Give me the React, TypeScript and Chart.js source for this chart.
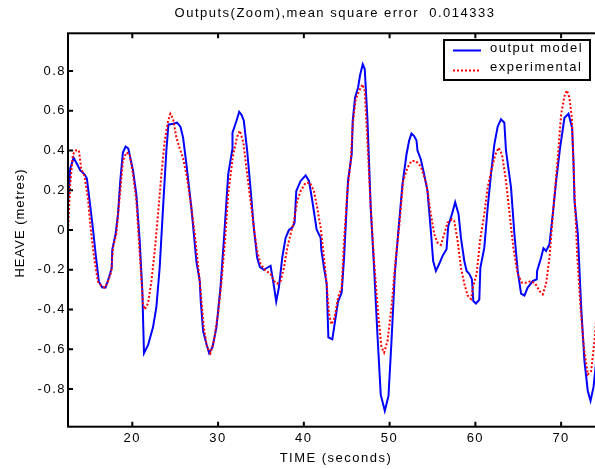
import React, { useEffect, useRef } from "react";
import { Chart, registerables } from "chart.js";

Chart.register(...registerables);

// ---- data ----
const titleText = "Outputs(Zoom),mean square error  0.014333";
const xAxisTitle = "TIME (seconds)";
const yAxisTitle = "HEAVE (metres)";
const seriesNames = ["output model", "experimental"];
const xTickValues = [20, 30, 40, 50, 60, 70];
const yTickValues = [-0.8, -0.6, -0.4, -0.2, 0, 0.2, 0.4, 0.6, 0.8];

const modelX = [
  12.5, 12.76, 13.15, 13.46, 13.93, 14.43, 14.7, 15.02, 15.4, 15.72,
  16.1, 16.5, 16.88, 17.27, 17.6, 17.66, 18.05, 18.33, 18.6, 18.9,
  19.22, 19.53, 20.08, 20.47, 20.86, 21.17, 21.36, 21.83, 22.41, 22.8,
  23.19, 23.58, 23.97, 24.21, 24.75, 25.22, 25.61, 25.92, 26.31, 26.89,
  27.48, 27.87, 27.98, 28.26, 28.65, 28.96, 29.35, 29.81, 30.28, 30.67,
  31.18, 31.64, 31.68, 32.15, 32.46, 32.73, 33.0, 33.39, 33.78, 34.17,
  34.56, 34.87, 35.34, 35.73, 36.12, 36.43, 36.78, 37.09, 37.48, 37.87,
  38.26, 38.65, 38.92, 39.12, 39.62, 40.21, 40.6, 40.99, 41.49, 41.96,
  42.04, 42.35, 42.66, 42.86, 43.32, 43.6, 43.99, 44.41, 44.69, 45.15,
  45.58, 45.7, 45.97, 46.32, 46.56, 46.87, 47.1, 47.41, 47.8, 48.19,
  48.58, 48.97, 49.44, 49.87, 50.22, 50.61, 50.99, 51.5, 51.97, 52.28,
  52.55, 52.86, 53.14, 53.25, 53.64, 54.03, 54.42, 54.81, 55.08, 55.4,
  55.79, 56.18, 56.64, 56.84, 57.27, 57.65, 58.04, 58.32, 58.71, 58.98,
  59.29, 59.6, 59.76, 60.07, 60.46, 60.58, 61.04, 61.43, 61.82, 62.21,
  62.6, 62.99, 63.38, 63.57, 64.16, 64.55, 64.94, 65.33, 65.72, 66.1,
  66.69, 67.16, 67.2, 67.66, 67.94, 68.25, 68.64, 69.03, 69.42, 69.88,
  70.39, 70.86, 71.28, 71.44, 71.56, 71.95, 72.34, 72.72, 73.11, 73.43,
  73.78, 74.09, 74.5,
];
const modelY = [
  0.13, 0.31, 0.364, 0.34, 0.3, 0.28, 0.26, 0.146, 0.01, -0.12,
  -0.26, -0.29, -0.29, -0.24, -0.19, -0.1, -0.02, 0.08, 0.25, 0.39,
  0.42, 0.41, 0.3, 0.18, -0.055, -0.31, -0.62, -0.58, -0.49, -0.39,
  -0.19, 0.11, 0.4, 0.53, 0.535, 0.54, 0.52, 0.465, 0.33, 0.11,
  -0.16, -0.26, -0.36, -0.51, -0.575, -0.62, -0.59, -0.49, -0.29, -0.055,
  0.28, 0.4, 0.49, 0.55, 0.595, 0.58, 0.55, 0.4, 0.21, 0.01,
  -0.14, -0.186, -0.2, -0.19, -0.18, -0.26, -0.36, -0.29, -0.14, -0.04,
  0.0, 0.012, 0.037, 0.196, 0.247, 0.275, 0.247, 0.146, 0.003, -0.04,
  -0.1, -0.19, -0.27, -0.54, -0.55, -0.47, -0.36, -0.315, -0.14, 0.247,
  0.38, 0.55, 0.666, 0.716, 0.78, 0.834, 0.81, 0.565, 0.11, -0.19,
  -0.525, -0.83, -0.91, -0.835, -0.56, -0.22, -0.02, 0.23, 0.38, 0.45,
  0.485, 0.473, 0.45, 0.4, 0.356, 0.28, 0.196, -0.005, -0.156, -0.206,
  -0.17, -0.13, -0.097, 0.02, 0.08, 0.14, 0.08, -0.04, -0.156, -0.206,
  -0.22, -0.248, -0.357, -0.37, -0.35, -0.19, -0.09, 0.11, 0.28, 0.43,
  0.52, 0.557, 0.54, 0.4, 0.213, -0.02, -0.206, -0.32, -0.33, -0.29,
  -0.257, -0.248, -0.206, -0.14, -0.092, -0.106, -0.072, 0.08, 0.247, 0.414,
  0.565, 0.585, 0.515, 0.347, 0.146, -0.02, -0.39, -0.66, -0.81, -0.86,
  -0.79, -0.66, -0.5,
];

const expX = [
  12.5, 12.76, 13.07, 13.38, 13.77, 14.04, 14.43, 14.82, 15.21, 15.6,
  15.99, 16.38, 16.77, 17.16, 17.55, 17.74, 18.13, 18.52, 18.91, 19.3,
  19.69, 20.08, 20.47, 20.86, 21.25, 21.44, 21.83, 22.22, 22.61, 23.0,
  23.39, 23.78, 24.17, 24.44, 24.75, 25.14, 25.53, 25.92, 26.31, 26.78,
  27.28, 27.87, 28.33, 28.72, 29.11, 29.5, 30.0, 30.4, 30.8, 31.18,
  31.76, 32.23, 32.54, 32.95, 33.39, 33.78, 34.17, 34.56, 34.95, 35.54,
  36.12, 36.51, 36.9, 37.29, 37.68, 38.07, 38.46, 38.85, 39.23, 39.62,
  40.21, 40.71, 41.18, 41.57, 41.96, 42.35, 42.66, 42.93, 43.21, 43.6,
  43.99, 44.41, 44.69, 45.08, 45.47, 45.7, 46.05, 46.44, 46.83, 47.1,
  47.41, 47.8, 48.19, 48.66, 49.05, 49.36, 49.75, 50.22, 50.72, 51.11,
  51.58, 52.09, 52.55, 53.06, 53.64, 54.31, 54.7, 55.2, 55.59, 55.98,
  56.37, 56.76, 57.27, 57.54, 57.93, 58.32, 58.71, 59.1, 59.49, 59.76,
  60.15, 60.54, 61.04, 61.43, 61.94, 62.33, 62.72, 63.11, 63.57, 64.04,
  64.43, 64.94, 65.44, 65.91, 66.49, 67.0, 67.47, 67.86, 68.25, 68.64,
  69.1, 69.61, 70.0, 70.39, 70.66, 70.97, 71.25, 71.56, 71.87, 72.26,
  72.65, 73.11, 73.5, 73.89, 74.09, 74.5,
];
const expY = [
  0.0, 0.23, 0.38, 0.4, 0.4, 0.31, 0.27, 0.16, -0.02, -0.156,
  -0.26, -0.28, -0.29, -0.26, -0.21, -0.09, -0.02, 0.16, 0.35, 0.39,
  0.38, 0.28, 0.146, -0.12, -0.37, -0.4, -0.37, -0.26, -0.106, 0.08,
  0.28, 0.45, 0.55, 0.585, 0.56, 0.465, 0.41, 0.36, 0.28, 0.146,
  -0.02, -0.26, -0.49, -0.59, -0.62, -0.56, -0.42, -0.26, -0.055, 0.18,
  0.38, 0.47, 0.5, 0.44, 0.28, 0.146, 0.012, -0.106, -0.17, -0.206,
  -0.22, -0.257, -0.27, -0.257, -0.19, -0.09, -0.02, 0.045, 0.146, 0.196,
  0.238, 0.238, 0.196, 0.11, 0.012, -0.14, -0.27, -0.42, -0.475, -0.44,
  -0.34, -0.29, -0.055, 0.196, 0.347, 0.53, 0.658, 0.7, 0.733, 0.7,
  0.448, 0.11, -0.156, -0.42, -0.59, -0.617, -0.56, -0.39, -0.14, 0.012,
  0.247, 0.314, 0.347, 0.347, 0.32, 0.23, 0.11, -0.02, -0.064, -0.075,
  -0.02, 0.037, 0.054, 0.045, -0.055, -0.19, -0.27, -0.33, -0.347, -0.28,
  -0.22, -0.055, 0.08, 0.213, 0.314, 0.38, 0.414, 0.38, 0.247, 0.062,
  -0.09, -0.223, -0.265, -0.265, -0.257, -0.27, -0.307, -0.324, -0.27, -0.14,
  0.11, 0.364, 0.582, 0.674, 0.703, 0.666, 0.565, 0.196, -0.122, -0.39,
  -0.59, -0.727, -0.71, -0.56, -0.44, -0.3,
];

const FONT = '"Liberation Sans", Arial, Helvetica, sans-serif';
const SPACING = "1.5px";

function toPoints(xs: number[], ys: number[]) {
  const n = Math.min(xs.length, ys.length);
  const out: { x: number; y: number }[] = [];
  for (let i = 0; i < n; i++) out.push({ x: xs[i], y: ys[i] });
  return out;
}

export default function App() {
  const ref = useRef<HTMLCanvasElement>(null);

  useEffect(() => {
    document.body.style.margin = "0";
    const canvas = ref.current!;

    const spacingPlugin = {
      id: "spacing",
      beforeDraw(chart: any) {
        chart.ctx.letterSpacing = SPACING;
      },
    };

    const framePlugin = {
      id: "frame",
      afterDatasetsDraw(chart: any) {
        const ctx = chart.ctx as CanvasRenderingContext2D;
        const { left, right, top, bottom } = chart.chartArea;
        const x = chart.scales.x;
        const y = chart.scales.y;
        ctx.save();
        ctx.strokeStyle = "#000";
        ctx.lineWidth = 2;
        ctx.strokeRect(left, top, right - left, bottom - top);
        ctx.beginPath();
        const tl = 5;
        for (const v of xTickValues) {
          const px = x.getPixelForValue(v);
          ctx.moveTo(px, bottom);
          ctx.lineTo(px, bottom - tl);
          ctx.moveTo(px, top);
          ctx.lineTo(px, top + tl);
        }
        for (const v of yTickValues) {
          const py = y.getPixelForValue(v);
          ctx.moveTo(left, py);
          ctx.lineTo(left + tl, py);
          ctx.moveTo(right, py);
          ctx.lineTo(right - tl, py);
        }
        ctx.stroke();

        // legend box
        const bx = 444, by = 40, bw = 146, bh = 40;
        ctx.fillStyle = "#fff";
        ctx.fillRect(bx, by, bw, bh);
        ctx.strokeRect(bx, by, bw, bh);
        const rows = [50.5, 70.5];
        const textRows = [48.5, 67];
        chart.data.datasets.forEach((ds: any, i: number) => {
          ctx.save();
          ctx.strokeStyle = ds.borderColor;
          ctx.lineWidth = ds.borderWidth;
          ctx.setLineDash(ds.borderDash || []);
          ctx.beginPath();
          ctx.moveTo(453, rows[i]);
          ctx.lineTo(481, rows[i]);
          ctx.stroke();
          ctx.restore();
          ctx.fillStyle = "#000";
          ctx.font = `13px ${FONT}`;
          ctx.textAlign = "left";
          ctx.textBaseline = "middle";
          ctx.fillText(ds.label, 490, textRows[i]);
        });

        // title
        ctx.fillStyle = "#000";
        ctx.font = `13px ${FONT}`;
        ctx.textAlign = "center";
        ctx.textBaseline = "middle";
        ctx.fillText(titleText, 335, 13);

        // y axis title
        ctx.save();
        (ctx as any).letterSpacing = "1px";
        ctx.translate(20, 223);
        ctx.rotate(-Math.PI / 2);
        ctx.textAlign = "center";
        ctx.textBaseline = "middle";
        ctx.fillText(yAxisTitle, 0, 0);
        ctx.restore();
        ctx.restore();
      },
    };

    const tickFont = { family: FONT, size: 13 };

    const chart = new Chart(canvas, {
      type: "line",
      data: {
        datasets: [
          {
            label: seriesNames[0],
            data: toPoints(modelX, modelY),
            borderColor: "#0000ff",
            borderWidth: 2,
            pointRadius: 0,
            tension: 0,
            fill: false,
            order: 2,
          },
          {
            label: seriesNames[1],
            data: toPoints(expX, expY),
            borderColor: "#ff0000",
            borderWidth: 2,
            borderDash: [2, 2],
            pointRadius: 0,
            tension: 0,
            fill: false,
            order: 1,
          },
        ],
      },
      options: {
        animation: false,
        responsive: false,
        devicePixelRatio: 1,
        parsing: false,
        layout: { padding: { top: 33.3, left: 0, right: 0, bottom: 0 } },
        plugins: {
          legend: { display: false },
          title: { display: false },
          tooltip: { enabled: false },
        },
        scales: {
          x: {
            type: "linear",
            min: 12.5,
            max: 75,
            grid: { display: false, drawTicks: false },
            border: { display: false },
            afterBuildTicks: (s: any) => {
              s.ticks = xTickValues.map((v) => ({ value: v }));
            },
            afterFit: (s: any) => {
              s.height = 42.3;
            },
            ticks: {
              font: tickFont,
              color: "#000",
              padding: 4,
              maxRotation: 0,
              autoSkip: false,
              callback: (v: any) => String(v),
            },
            title: {
              display: true,
              text: xAxisTitle,
              font: tickFont,
              color: "#000",
              padding: { top: 0, bottom: 3 },
            },
          },
          y: {
            type: "linear",
            min: -0.99,
            max: 0.99,
            grid: { display: false, drawTicks: false },
            border: { display: false },
            afterBuildTicks: (s: any) => {
              s.ticks = yTickValues.map((v) => ({ value: v }));
            },
            afterFit: (s: any) => {
              s.width = 68;
            },
            ticks: {
              font: tickFont,
              color: "#000",
              padding: 2,
              autoSkip: false,
              callback: (v: any) => String(Math.round(Number(v) * 10) / 10),
            },
            title: { display: false },
          },
        },
      } as any,
      plugins: [spacingPlugin, framePlugin],
    });

    return () => chart.destroy();
  }, []);

  return (
    <div style={{ width: 595, height: 469, overflow: "hidden", background: "#fff" }}>
      <canvas ref={ref} width={604} height={469} style={{ display: "block" }} />
    </div>
  );
}
